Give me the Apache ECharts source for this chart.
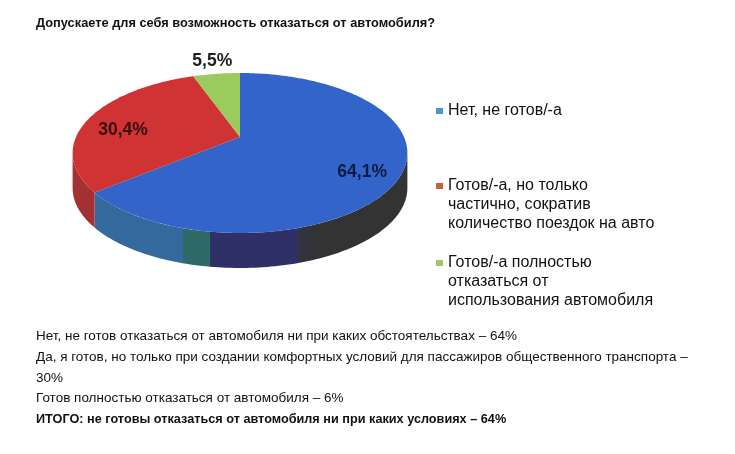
<!DOCTYPE html>
<html>
<head>
<meta charset="utf-8">
<script src="https://cdn.jsdelivr.net/npm/echarts@6/dist/echarts.min.js"></script>
<style>
html,body{margin:0;padding:0;background:#fff;}
#chart{width:735px;height:454px;}
</style>
</head>
<body>
<div id="chart"></div>
<script>
const chartTitle = 'Допускаете для себя возможность отказаться от автомобиля?';
const categories = [
  'Нет, не готов/-а',
  'Готов/-а, но только\nчастично, сократив\nколичество поездок на авто',
  'Готов/-а полностью\nотказаться от\nиспользования автомобиля'
];
const values = [64.1, 30.4, 5.5];
const valueLabels = ['64,1%', '30,4%', '5,5%'];
const notes = [
  'Нет, не готов отказаться от автомобиля ни при каких обстоятельствах – 64%',
  'Да, я готов, но только при создании комфортных условий для пассажиров общественного транспорта –',
  '30%',
  'Готов полностью отказаться от автомобиля – 6%'
];
const summary = 'ИТОГО: не готовы отказаться от автомобиля ни при каких условиях – 64%';

const topColors = ['#3264c9', '#cf3333', '#9acb5c'];
const legendColors = ['#4a98c9', '#c0653a', '#9bc963'];
const labelColors = ['#0f1a45', '#3a0e0e', '#1e1e1e'];

// perspective pie geometry
const CX = 240, CY = 137, A = 164, B = 76.8, K = 0.2, DEPTH = 35;
const total = values.reduce((s, v) => s + v, 0);
const starts = [];
(function () { let acc = 0; values.forEach(v => { starts.push(acc / total * Math.PI * 2); acc += v; }); })();

function proj(theta, f) {
  f = f == null ? 1 : f;
  const u = f * Math.sin(theta), v = -f * Math.cos(theta);
  const d = 1 - K * v;
  return [CX + A * u / d, CY + B * v / d];
}
const thetaR = Math.acos(-K), thetaL = Math.PI * 2 - Math.acos(-K);

const blueWall = new echarts.graphic.LinearGradient(0, 0, 1, 0, [
  { offset: 0, color: '#34699d' }, { offset: 0.283, color: '#34699d' },
  { offset: 0.283, color: '#2f6a66' }, { offset: 0.369, color: '#2f6a66' },
  { offset: 0.369, color: '#2f3068' }, { offset: 0.65, color: '#2f3068' },
  { offset: 0.65, color: '#333340' }, { offset: 0.695, color: '#333340' },
  { offset: 0.695, color: '#333333' }, { offset: 1, color: '#333333' }
]);
const wallColors = [blueWall, '#a33131', '#7da443'];

function arcPoints(a0, a1, f) {
  const n = Math.max(4, Math.ceil((a1 - a0) / 0.02));
  const pts = [];
  for (let k = 0; k <= n; k++) pts.push(proj(a0 + (a1 - a0) * k / n, f));
  return pts;
}

const series = [];
// side walls (drawn below tops)
series.push({
  type: 'custom',
  name: 'walls',
  coordinateSystem: 'none',
  silent: true,
  z: 1,
  data: values,
  renderItem: function (params, api) {
    const i = params.dataIndex;
    const a0 = starts[i], a1 = a0 + api.value(0) / total * Math.PI * 2;
    const b0 = Math.max(a0, thetaR), b1 = Math.min(a1, thetaL);
    if (b1 <= b0) return { type: 'group', children: [] };
    const top = arcPoints(b0, b1);
    const bottom = top.map(p => [p[0], p[1] + DEPTH]).reverse();
    return { type: 'polygon', shape: { points: top.concat(bottom) }, style: { fill: wallColors[i] } };
  }
});
// top faces, one series per category (for legend)
categories.forEach(function (name, i) {
  series.push({
    type: 'custom',
    name: name,
    coordinateSystem: 'none',
    z: 2,
    itemStyle: { color: legendColors[i] },
    data: [values[i]],
    renderItem: function (params, api) {
      const a0 = starts[i], a1 = a0 + api.value(0) / total * Math.PI * 2;
      const pts = [[CX, CY]].concat(arcPoints(a0, a1));
      const mid = (a0 + a1) / 2;
      const outside = api.value(0) < 10;
      const lp = proj(mid, outside ? 1.22 : 0.77);
      return {
        type: 'group',
        children: [
          { type: 'polygon', shape: { points: pts }, style: { fill: topColors[i] } },
          {
            type: 'text', z2: 10,
            style: {
              text: valueLabels[i], x: lp[0], y: lp[1] + (outside ? -1 : 8),
              align: 'center', verticalAlign: 'middle',
              font: 'bold 17.5px "Liberation Sans", Arial, sans-serif',
              fill: labelColors[i]
            }
          }
        ]
      };
    }
  });
});

const LH = 19;
const legendBase = {
  orient: 'vertical', left: 436, padding: 0, icon: 'rect',
  itemWidth: 7, itemHeight: 6, selectedMode: false,
  textStyle: { fontFamily: '"Liberation Sans", Arial, sans-serif', fontSize: 16, color: '#111', lineHeight: LH }
};
const legendIconYs = [111, 186, 263];
const legends = categories.map(function (name, i) {
  const lines = name.split('\n').length;
  const blocks = 2 * lines - 1;
  return Object.assign({}, legendBase, {
    top: legendIconYs[i] - blocks * LH / 2,
    data: [{ name: name, itemStyle: { color: legendColors[i] } }],
    formatter: function (n) { return '\n'.repeat(lines - 1) + n; }
  });
});

const noteFont = '13.5px "Liberation Sans", Arial, sans-serif';
const noteYs = [336, 357, 378, 398];
const graphics = notes.map(function (t, i) {
  return { type: 'text', x: 36, y: noteYs[i], style: { text: t, font: noteFont, fill: '#111', verticalAlign: 'middle' } };
});
graphics.push({ type: 'text', x: 36, y: 419, style: { text: summary, font: 'bold 12.7px "Liberation Sans", Arial, sans-serif', fill: '#111', verticalAlign: 'middle' } });

const chart = echarts.init(document.getElementById('chart'), null, { renderer: 'canvas' });
chart.setOption({
  backgroundColor: '#fff',
  animation: false,
  title: {
    text: chartTitle, left: 36, top: 16.5, padding: 0,
    textStyle: { fontFamily: '"Liberation Sans", Arial, sans-serif', fontSize: 12.8, fontWeight: 'bold', color: '#111' }
  },
  legend: legends,
  graphic: graphics,
  series: series
});
</script>
</body>
</html>
